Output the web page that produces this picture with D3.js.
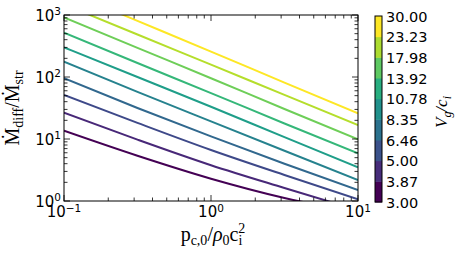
<!DOCTYPE html>
<html>
<head>
<meta charset="utf-8">
<script src="https://cdn.jsdelivr.net/npm/d3@7"></script>
<style>
  body { margin: 0; background: #fff; }
  svg { display: block; }
  .tick-lbl { font-family: 'DejaVu Sans', sans-serif; font-size: 15px; fill: #000; }
  .math { font-family: 'Liberation Serif', 'DejaVu Serif', serif; fill: #000; }
</style>
</head>
<body>
<div id="chart"></div>
<script>
// sample abscissae (p_c0 / rho0 c_i^2)
const xSamples = [0.1, 0.316, 1, 3.16, 10];

// V_g / c_i values, one line each
const vgValues = [3.00, 3.87, 5.00, 6.46, 8.35, 10.78, 13.92, 17.98, 23.23, 30.00];

// Mdiff / Mstr at xSamples
const mdotRatio = [
  [13.6, 5.37, 2.29, 1.12, 0.65],
  [26.5, 9.77, 3.78, 1.62, 0.71],
  [51.3, 18.2, 6.65, 2.63, 1.07],
  [95.3, 31.6, 11.0, 3.98, 1.50],
  [177, 57.5, 19.2, 6.46, 2.18],
  [301, 100, 33.1, 10.7, 3.50],
  [519, 168, 55, 17.8, 5.87],
  [918, 295, 95.5, 30.5, 9.9],
  [1486, 484, 158, 51.5, 16.8],
  [2512, 804, 257, 81.3, 26.0]
];

const cbarLabels = ['3.00', '3.87', '5.00', '6.46', '8.35', '10.78', '13.92', '17.98', '23.23', '30.00'];

const W = 458, H = 253;
const plot = { left: 64, right: 358, top: 15, bottom: 201 };
const cbar = { left: 375, width: 7, top: 16, bottom: 202 };

const svg = d3.select('#chart').append('svg')
  .attr('width', W).attr('height', H);

const x = d3.scaleLog().domain([0.1, 10]).range([plot.left, plot.right]);
const y = d3.scaleLog().domain([1, 1000]).range([plot.bottom, plot.top]);

svg.append('defs').append('clipPath').attr('id', 'clip')
  .append('rect')
  .attr('x', plot.left).attr('y', plot.top)
  .attr('width', plot.right - plot.left).attr('height', plot.bottom - plot.top);

let line = d3.line()
  .x((d) => x(d[0]))
  .y((d) => y(d[1]))
  .curve(d3.curveMonotoneX);

let lineColor = (i) => d3.interpolateViridis(i / (vgValues.length - 1));

svg.append('g').attr('clip-path', 'url(#clip)')
  .selectAll('path')
  .data(mdotRatio)
  .enter()
  .append('path')
  .attr('d', (row) => line(row.map((v, j) => [xSamples[j], v])))
  .attr('fill', 'none')
  .attr('stroke', (row, i) => lineColor(i))
  .attr('stroke-width', 2);

/* ticks, inward on all four sides */
let minorTicks = (lo, hi) => {
  let out = [];
  for (let e = lo; e < hi; e++) {
    for (let k = 2; k <= 9; k++) out.push(k * Math.pow(10, e));
  }
  return out;
};

let ticksG = svg.append('g').attr('stroke', '#000').attr('stroke-width', 0.8);
let xMajor = [0.1, 1, 10], yMajor = [1, 10, 100, 1000];
let xMinor = minorTicks(-1, 1), yMinor = minorTicks(0, 3);

[[xMajor, 6], [xMinor, 3.5]].forEach(([vals, len]) => {
  vals.forEach((v) => {
    let px = x(v);
    ticksG.append('line').attr('x1', px).attr('x2', px)
      .attr('y1', plot.bottom).attr('y2', plot.bottom - len);
    ticksG.append('line').attr('x1', px).attr('x2', px)
      .attr('y1', plot.top).attr('y2', plot.top + len);
  });
});
[[yMajor, 6], [yMinor, 3.5]].forEach(([vals, len]) => {
  vals.forEach((v) => {
    let py = y(v);
    ticksG.append('line').attr('y1', py).attr('y2', py)
      .attr('x1', plot.left).attr('x2', plot.left + len);
    ticksG.append('line').attr('y1', py).attr('y2', py)
      .attr('x1', plot.right).attr('x2', plot.right - len);
  });
});

svg.append('rect')
  .attr('x', plot.left).attr('y', plot.top)
  .attr('width', plot.right - plot.left).attr('height', plot.bottom - plot.top)
  .attr('fill', 'none').attr('stroke', '#000').attr('stroke-width', 1);

/* tick labels as 10^n */
let powLabel = (sel, v) => {
  let e = Math.round(Math.log10(v));
  sel.append('tspan').text('10');
  sel.append('tspan').attr('dy', '-0.5em').attr('font-size', '10.5px')
    .text(e < 0 ? '\u2212' + (-e) : String(e));
};

xMajor.forEach((v) => {
  let t = svg.append('text').attr('class', 'tick-lbl')
    .attr('x', x(v)).attr('y', 217).attr('text-anchor', 'middle');
  powLabel(t, v);
});
yMajor.forEach((v) => {
  let t = svg.append('text').attr('class', 'tick-lbl')
    .attr('x', 61).attr('y', y(v) + 5.5).attr('text-anchor', 'end');
  powLabel(t, v);
});

/* axis labels */
let xl = svg.append('text').attr('class', 'math')
  .attr('x', 213).attr('y', 241).attr('text-anchor', 'middle')
  .attr('font-size', '20px');
xl.append('tspan').text('p');
xl.append('tspan').attr('font-size', '14px').attr('dy', 4).text('c,0');
xl.append('tspan').attr('dy', -4).text('/');
xl.append('tspan').attr('font-style', 'italic').text('\u03c1');
xl.append('tspan').attr('font-size', '14px').attr('dy', 4).text('0');
xl.append('tspan').attr('dy', -4).text('c');
xl.append('tspan').attr('font-size', '14px').attr('dy', 4).text('i');
xl.append('tspan').attr('font-size', '14px').attr('dx', -4).attr('dy', -12).text('2');

let yl = svg.append('text').attr('class', 'math')
  .attr('transform', `translate(19,${(plot.top + plot.bottom) / 2}) rotate(-90)`)
  .attr('text-anchor', 'middle').attr('font-size', '20px');
yl.append('tspan').text('\u1e40');
yl.append('tspan').attr('font-size', '14px').attr('dy', 4).text('diff');
yl.append('tspan').attr('dy', -4).text('/\u1e40');
yl.append('tspan').attr('font-size', '14px').attr('dy', 4).text('str');

/* discrete colour bar */
let cb = d3.scaleLinear()
  .domain([0, cbarLabels.length - 1])
  .range([cbar.bottom, cbar.top]);
let nBins = cbarLabels.length - 1;

svg.append('g').selectAll('rect')
  .data(d3.range(nBins))
  .enter()
  .append('rect')
  .attr('x', cbar.left)
  .attr('y', (i) => cb(i + 1))
  .attr('width', cbar.width)
  .attr('height', (i) => cb(i) - cb(i + 1) + 0.5)
  .attr('fill', (i) => d3.interpolateViridis(i / (nBins - 1)));

svg.append('rect')
  .attr('x', cbar.left).attr('y', cbar.top)
  .attr('width', cbar.width).attr('height', cbar.bottom - cbar.top)
  .attr('fill', 'none').attr('stroke', '#000').attr('stroke-width', 1);

svg.append('g').selectAll('text')
  .data(cbarLabels)
  .enter()
  .append('text')
  .attr('class', 'tick-lbl')
  .attr('x', cbar.left + cbar.width + 4)
  .attr('y', (d, i) => cb(i) + 5.5)
  .style('font-size', '14.5px')
  .text((d) => d);

let cl = svg.append('text').attr('class', 'math')
  .attr('transform', `translate(447,${(cbar.top + cbar.bottom) / 2 + 3}) rotate(-90)`)
  .attr('text-anchor', 'middle').attr('font-size', '17px').attr('font-style', 'italic');
cl.append('tspan').text('V');
cl.append('tspan').attr('font-size', '12px').attr('dy', 4).text('g');
cl.append('tspan').attr('dy', -4).text('/c');
cl.append('tspan').attr('font-size', '12px').attr('dy', 4).text('i');
</script>
</body>
</html>
